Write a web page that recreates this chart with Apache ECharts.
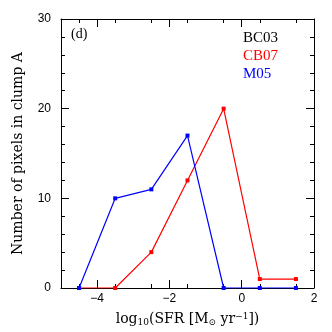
<!DOCTYPE html>
<html>
<head>
<meta charset="utf-8">
<script src="https://cdn.jsdelivr.net/npm/echarts@6/dist/echarts.min.js"></script>
<style>
  html, body { margin: 0; padding: 0; background: #fff; }
  #chart { width: 332px; height: 332px; }
</style>
</head>
<body>
<div id="chart"></div>
<script>
// bin centres of log10(SFR)
const binCentres = [-4.5, -3.5, -2.5, -1.5, -0.5, 0.5, 1.5];
// counts per model (BC03 coincides with CB07 and is hidden under it)
const bc03 = [0, 0, 4, 12, 20, 1, 1];
const cb07 = [0, 0, 4, 12, 20, 1, 1];
const m05 = [0, 10, 11, 17, 0, 0, 0];
const xMajorTicks = [-4, -2, 0, 2];

const toPairs = vals => binCentres.map((x, i) => [x, vals[i]]);

const chart = echarts.init(document.getElementById('chart'));

const serif = 'Liberation Serif';
const titleFont = 'DejaVu Serif';
const sans = 'Liberation Sans';

// x axis: interval 1 from -5, minor ticks every 0.5, long ticks + labels only at even values
const xAxisDef = (pos, labels) => ({
  type: 'value', position: pos, min: -5, max: 2, interval: 1,
  axisLine: { onZero: false, lineStyle: { color: '#000' } },
  axisTick: { show: true, inside: true, length: 8, customValues: xMajorTicks, lineStyle: { color: '#000' } },
  minorTick: { show: true, splitNumber: 2, length: 4, lineStyle: { color: '#000' } },
  axisLabel: labels ? {
    customValues: xMajorTicks, color: '#000', fontFamily: sans, fontSize: 12, margin: 5,
    formatter: v => (v < 0 ? '\u2212' + Math.abs(v) : String(v))
  } : { show: false },
  splitLine: { show: false }
});

const yAxisDef = (pos, labels) => ({
  type: 'value', position: pos, min: 0, max: 30, interval: 10,
  axisLine: { show: true, onZero: false, lineStyle: { color: '#000' } },
  axisTick: { show: true, inside: true, length: 8, lineStyle: { color: '#000' } },
  minorTick: { show: true, splitNumber: 5, length: 4, lineStyle: { color: '#000' } },
  axisLabel: labels ? { color: '#000', fontFamily: sans, fontSize: 12, margin: 10 } : { show: false },
  splitLine: { show: false }
});

const bottomAxis = Object.assign(xAxisDef('bottom', true), {
  name: '{a|log}{sub|10}{a|(SFR [M}{sub|\u2299}{a| yr}{sup|\u22121}{a|])}',
  nameLocation: 'middle', nameGap: 24,
  nameTextStyle: {
    color: '#000', fontFamily: titleFont, fontSize: 14,
    rich: {
      a: { fontFamily: titleFont, fontSize: 14 },
      sub: { fontFamily: titleFont, fontSize: 9, verticalAlign: 'bottom', padding: [6, 0, 0, 0] },
      sup: { fontFamily: titleFont, fontSize: 9, verticalAlign: 'top', padding: [0, 0, 6, 0] }
    }
  }
});

const leftAxis = Object.assign(yAxisDef('left', true), {
  name: 'Number of pixels in clump A',
  nameLocation: 'middle', nameGap: 36,
  nameTextStyle: { color: '#000', fontFamily: titleFont, fontSize: 14 }
});

const option = {
  animation: false,
  grid: { left: 61, right: 18, top: 19, bottom: 36 },
  legend: {
    orient: 'vertical', left: 233, top: 26, itemGap: 3,
    itemWidth: 0, itemHeight: 0, icon: 'rect',
    textStyle: { fontFamily: serif, fontSize: 15 },
    selectedMode: false,
    data: [
      { name: 'BC03', textStyle: { color: '#000' } },
      { name: 'CB07', textStyle: { color: '#ff0000' } },
      { name: 'M05', textStyle: { color: '#0000ff' } }
    ]
  },
  graphic: [{
    type: 'text', left: 71, top: 27,
    style: { text: '(d)', font: '14px "Liberation Serif"', fill: '#000' }
  }],
  xAxis: [bottomAxis, xAxisDef('top', false)],
  yAxis: [leftAxis, yAxisDef('right', false)],
  series: [
    // BC03 lies exactly under CB07 in the figure, so keep it invisible
    { name: 'BC03', color: '#000', lineStyle: { opacity: 0 }, itemStyle: { opacity: 0 }, data: toPairs(bc03) },
    { name: 'CB07', color: '#ff0000', data: toPairs(cb07) },
    { name: 'M05', color: '#0000ff', data: toPairs(m05) }
  ].map(s => Object.assign({
    type: 'line', symbol: 'rect', symbolSize: 4,
    lineStyle: { width: 1.2, color: s.color },
    itemStyle: { color: s.color }
  }, s))
};

chart.setOption(option);
</script>
</body>
</html>
